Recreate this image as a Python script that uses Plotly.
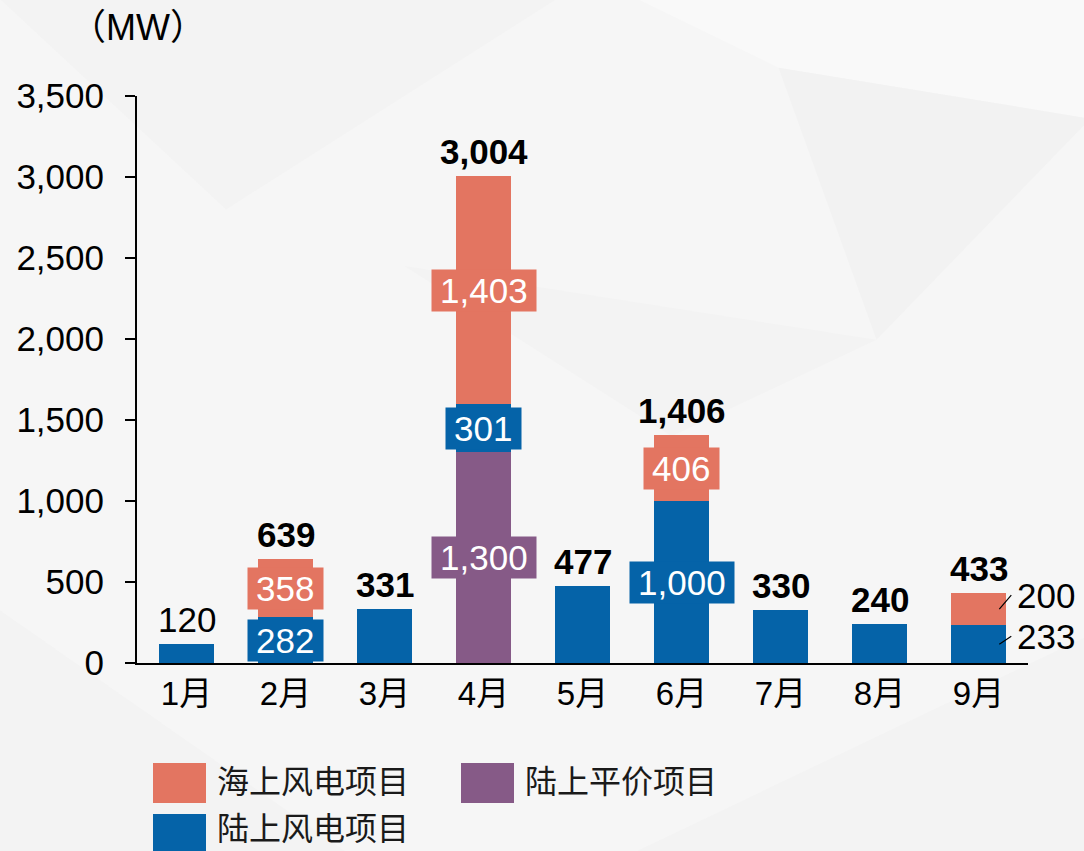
import plotly.graph_objects as go

months = ["1月", "2月", "3月", "4月", "5月", "6月", "7月", "8月", "9月"]
parity = [0, 0, 0, 1300, 0, 0, 0, 0, 0]          # 陆上平价项目
onshore = [120, 282, 331, 301, 477, 1000, 330, 240, 233]  # 陆上风电项目
offshore = [0, 358, 0, 1403, 0, 406, 0, 0, 200]   # 海上风电项目
totals = [120, 639, 331, 3004, 477, 1406, 330, 240, 433]
y_ticks = [0, 500, 1000, 1500, 2000, 2500, 3000, 3500]

C_OFF = "#E37561"
C_ON = "#0563A8"
C_PAR = "#865A87"
NUM_FONT = "Arial, 'Liberation Sans', 'Noto Sans CJK SC', sans-serif"
CJK_FONT = "'Noto Sans CJK SC', sans-serif"

fig = go.Figure()
fig.add_trace(go.Bar(x=months, y=parity, name="陆上平价项目", marker=dict(color=C_PAR, line=dict(width=0))))
fig.add_trace(go.Bar(x=months, y=onshore, name="陆上风电项目", marker=dict(color=C_ON, line=dict(width=0))))
fig.add_trace(go.Bar(x=months, y=offshore, name="海上风电项目", marker=dict(color=C_OFF, line=dict(width=0))))

annotations = []

def fmt(v):
    return f"{v:,}"

def box_width(s):
    digits = sum(ch.isdigit() for ch in s)
    commas = s.count(",")
    return digits * 19.5 + commas * 9.7 + 16

# totals above bars
for i, (m, t) in enumerate(zip(months, totals)):
    bold = m != "1月"
    annotations.append(dict(
        x=m, y=t, xref="x", yref="y", text=f"<b>{fmt(t)}</b>" if bold else fmt(t),
        showarrow=False, yanchor="bottom", yshift=3,
        font=dict(family=NUM_FONT, size=35, color="#000000")))

# inner boxed labels
inner_months = ["2月", "4月", "6月"]
for i, m in enumerate(months):
    if m not in inner_months:
        continue
    base = 0
    for vals, col in ((parity, C_PAR), (onshore, C_ON), (offshore, C_OFF)):
        v = vals[i]
        if v > 0:
            s = fmt(v)
            annotations.append(dict(
                x=m, y=base + v / 2, xref="x", yref="y", text=s, showarrow=False,
                bgcolor=col, borderpad=0, width=box_width(s), height=41,
                font=dict(family=NUM_FONT, size=35, color="#ffffff")))
        base += v

# side labels with leader lines (9月)
idx9 = months.index("9月")
base = 0
for vals, dy in ((parity, 0), (onshore, -6), (offshore, -12)):
    v = vals[idx9]
    if v > 0:
        annotations.append(dict(
            x=idx9 + 0.21, y=base + v / 2, xref="x", yref="y", text=fmt(v),
            showarrow=True, arrowhead=0, arrowwidth=1.2, arrowcolor="#000000",
            ax=12, ay=dy - 2, xanchor="left", yanchor="middle", standoff=0, startstandoff=0,
            borderpad=5,
            font=dict(family=NUM_FONT, size=35, color="#000000")))
    base += v

# unit label
annotations.append(dict(x=-0.078, y=1.12, xref="paper", yref="paper", text="（MW）",
                        showarrow=False, xanchor="left", yanchor="middle",
                        font=dict(family=NUM_FONT, size=36, color="#000000")))

# manual legend
PW, PH, X0, Y0 = 891.0, 567.0, 137.0, 663.0
def px(x):
    return (x - X0) / PW
def py(y):
    return (Y0 - y) / PH

shapes = []
legend_items = [
    ("海上风电项目", C_OFF, 153, 763, 779),
    ("陆上平价项目", C_PAR, 461, 763, 779),
    ("陆上风电项目", C_ON, 153, 814, 826),
]
for name, col, lx, ly, ty in legend_items:
    shapes.append(dict(type="rect", xref="paper", yref="paper",
                       x0=px(lx), x1=px(lx + 53), y0=py(ly), y1=py(ly + 40),
                       fillcolor=col, line=dict(width=0), layer="above"))
    annotations.append(dict(x=px(lx + 63), y=py(ty), xref="paper", yref="paper",
                            text=name, showarrow=False, xanchor="left", yanchor="middle",
                            borderpad=0,
                            font=dict(family=CJK_FONT, size=32, color="#1a1a1a")))

# subtle low-poly background
bg_polys = [
    ("M -0.16 1.18 L 0.48 1.18 L 0.10 0.80 Z", "#f3f3f3"),
    ("M 0.55 1.18 L 1.07 1.18 L 1.07 0.96 L 0.72 1.05 Z", "#f9f9f9"),
    ("M 0.72 1.05 L 1.07 0.96 L 0.83 0.57 Z", "#f2f2f2"),
    ("M 0.30 0.70 L 0.83 0.57 L 0.60 0.40 Z", "#f3f3f3"),
    ("M -0.16 0.10 L 0.25 -0.35 L -0.16 -0.35 Z", "#f3f3f3"),
    ("M 0.55 -0.34 L 1.07 -0.34 L 1.07 0.05 Z", "#f3f3f3"),
]
for p, c in bg_polys:
    shapes.append(dict(type="path", xref="paper", yref="paper", path=p,
                       fillcolor=c, line=dict(width=0), layer="below"))

fig.update_layout(
    width=1084, height=851,
    margin=dict(l=137, r=56, t=96, b=188),
    paper_bgcolor="#f6f6f6", plot_bgcolor="rgba(0,0,0,0)",
    barmode="stack", bargap=0.444,
    showlegend=False,
    annotations=annotations, shapes=shapes,
    font=dict(family=NUM_FONT, color="#000000"),
)
fig.update_xaxes(
    type="category", range=[-0.5, 8.5], showline=True, linecolor="#000000", linewidth=2,
    ticks="", showgrid=False, zeroline=False,
    tickfont=dict(family=NUM_FONT, size=33, color="#000000"),
)
fig.update_yaxes(
    range=[0, 3500], tickvals=y_ticks, tickformat=",", showline=True, linecolor="#000000",
    linewidth=2, ticks="outside", ticklen=10, tickwidth=2, tickcolor="#000000",
    showgrid=False, zeroline=False, ticklabelstandoff=14,
    tickfont=dict(family=NUM_FONT, size=35, color="#000000"),
)

fig.write_html("out.html", config={"displayModeBar": False},
               post_script="document.body.style.margin='0';document.body.style.overflow='hidden';")
